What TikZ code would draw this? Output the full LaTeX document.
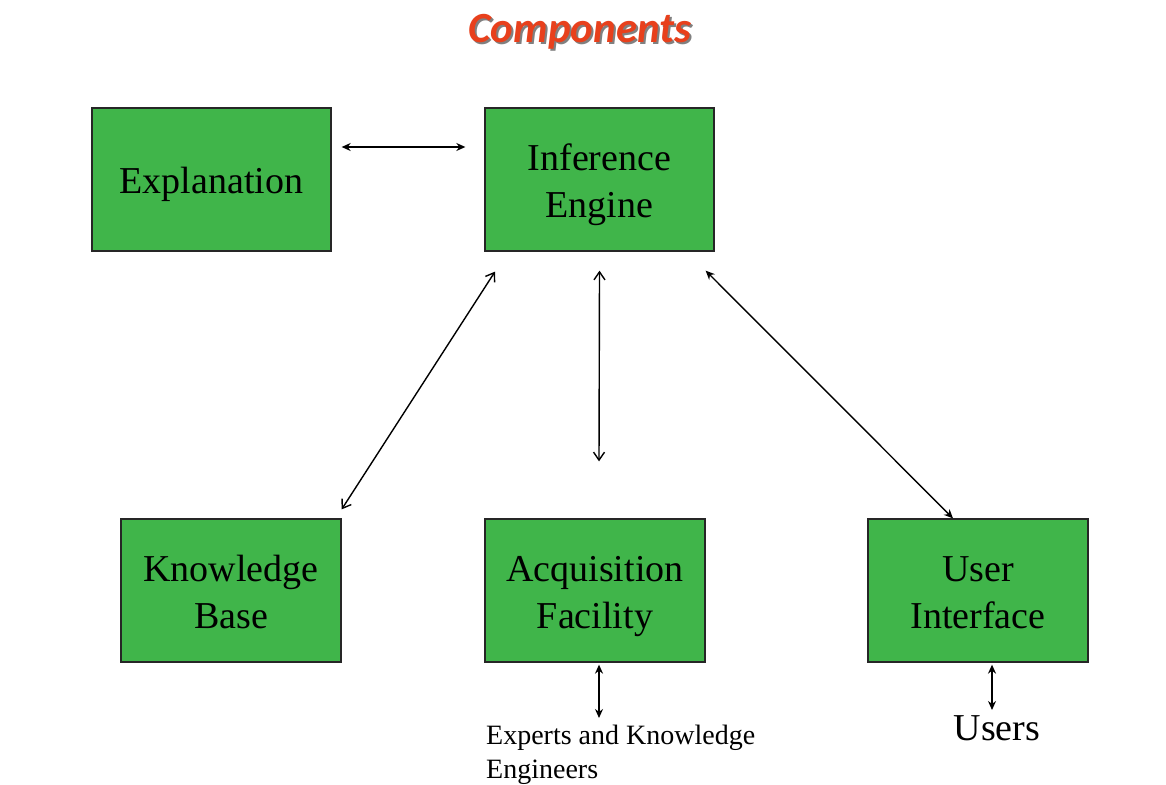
\documentclass[tikz,border=0pt]{standalone}
\usepackage{fontspec}
\setmainfont{Liberation Serif}
\newfontfamily\titlefont{Carlito}
\usetikzlibrary{arrows.meta,calc}
\definecolor{boxgreen}{RGB}{64,181,74}
\definecolor{titlered}{RGB}{232,64,28}
\newcommand{\boxstrut}{\rule{0pt}{37pt}}
\newcommand{\boxdepth}{\rule[-9pt]{0pt}{1pt}}
\tikzset{
  comp/.style={draw=black!85, fill=boxgreen, line width=1.3pt, minimum height=143pt, inner sep=0pt, align=center,
    font=\fontsize{38}{47}\selectfont},
  arr/.style={line width=1.4pt, {Stealth[length=9pt,width=8pt]}-{Stealth[length=9pt,width=8pt]}},
  arrb/.style={line width=1.4pt, {Straight Barb[length=8pt,width=11pt]}-{Straight Barb[length=8pt,width=11pt]}},
  lab/.style={inner sep=0pt, align=left}
}
\begin{document}
\begin{tikzpicture}[x=1pt,y=-1pt]
\useasboundingbox[fill=white] (0,0) rectangle (1166,784);
% title
\node[text=black!50, font=\titlefont\bfseries\itshape\fontsize{43}{50}\selectfont] (titleshadow) at (582,34) {Components};
\node[text=titlered, font=\titlefont\bfseries\itshape\fontsize{43}{50}\selectfont] (title) at (580,32) {Components};
% boxes
\node[comp, minimum width=239pt] (expl) at (211.5,179.5) {\boxstrut Explanation\boxdepth};
\node[comp, minimum width=229pt] (inf) at (599.5,179.5) {\boxstrut Inference\\Engine\boxdepth};
\node[comp, minimum width=220pt] (kb) at (231,590.5) {\boxstrut Knowledge\\Base\boxdepth};
\node[comp, minimum width=220pt] (acq) at (595,590.5) {\boxstrut Acquisition\\Facility\boxdepth};
\node[comp, minimum width=220pt] (ui) at (978,590.5) {\boxstrut User\\Interface\boxdepth};
% labels
\node[lab, anchor=north west, font=\fontsize{28}{34}\selectfont] (exp) at (486,725) {Experts and Knowledge\\Engineers};
\node[lab, anchor=north, font=\fontsize{38}{44}\selectfont] (users) at (997,715) {Users};
% connectors
\draw[arr] ($(expl.east)+(10,-32.5)$) -- ($(inf.west)+(-19,-32.5)$);
\draw[arrb] ($(inf.south)+(-104.5,20)$) -- ($(kb.north east)+(0,-9)$);
\draw[arrb] ($(inf.south)+(0,19)$) -- ($(acq.north)+(4,-57)$);
\draw[arr] ($(inf.south east)+(-9,19)$) -- ($(ui.north)+(-25,0)$);
\draw[arr] ($(acq.south)+(4,2)$) -- ($(exp.north west)+(113,-7)$);
\draw[arr] ($(ui.south)+(14,2)$) -- ($(users.north)+(-5,-5)$);
\end{tikzpicture}
\end{document}
